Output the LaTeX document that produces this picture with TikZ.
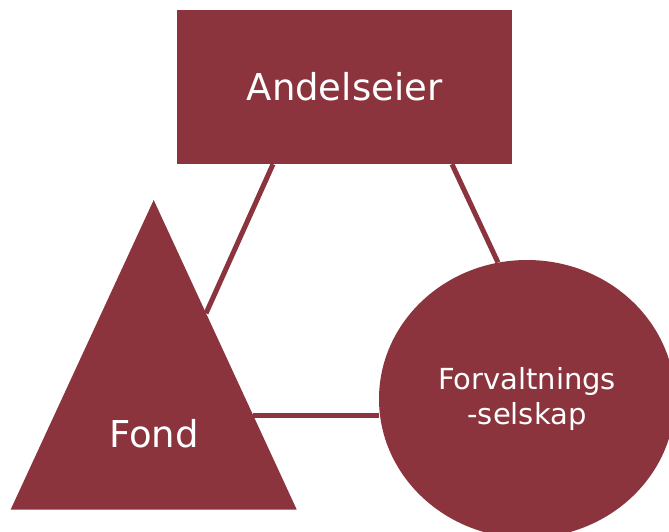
\documentclass[tikz,border=0pt]{standalone}
\usepackage{fontspec}
\setmainfont{DejaVu Sans}
\usetikzlibrary{shapes.geometric,calc}
\definecolor{wine}{RGB}{139,52,62}
\begin{document}
\begin{tikzpicture}[x=1pt,y=-1pt]

	%frame of the picture, y grows downward (one unit is one pixel)
	\useasboundingbox (0,0) rectangle (669,531);
	\clip (0,0) rectangle (669,531);

	\def\lineWidth{5pt}
	\def\bigText{\fontsize{37}{44}\selectfont}
	\def\smallText{\fontsize{29}{35}\selectfont}

	%owner, box at the top
	\node (owner) [fill=wine, text=white, font=\bigText, minimum width=335pt, minimum height=154pt, inner sep=0pt] at (344.5,87) {Andelseier};

	%fund, triangle lower left
	\coordinate (fundTop) at (153.7,200);
	\coordinate (fundLeft) at (10.7,509.5);
	\coordinate (fundRight) at (296.7,509.5);
	\fill [wine] (fundTop) -- (fundLeft) -- (fundRight) -- cycle;
	\node (fund) [text=white, font=\bigText, inner sep=0pt] at (154,434) {Fond};

	%company, ellipse lower right
	\node (company) [ellipse, fill=wine, text=white, font=\smallText, align=center, minimum width=296pt, minimum height=278pt, inner sep=0pt] at (527,399) {Forvaltnings\\-selskap};

	%connectors
	\coordinate (fundEdgeA) at ($(fundTop)!0.366!(fundRight)$);
	\coordinate (fundEdgeB) at ($(fundTop)!0.696!(fundRight)$);

	\draw [wine, line width=\lineWidth] ([xshift=-71.5pt]owner.south) -- (fundEdgeA);
	\draw [wine, line width=\lineWidth] ([xshift=107.5pt]owner.south) -- (company.102);
	\draw [wine, line width=\lineWidth] (fundEdgeB) -- (fundEdgeB -| company.west);

\end{tikzpicture}
\end{document}
